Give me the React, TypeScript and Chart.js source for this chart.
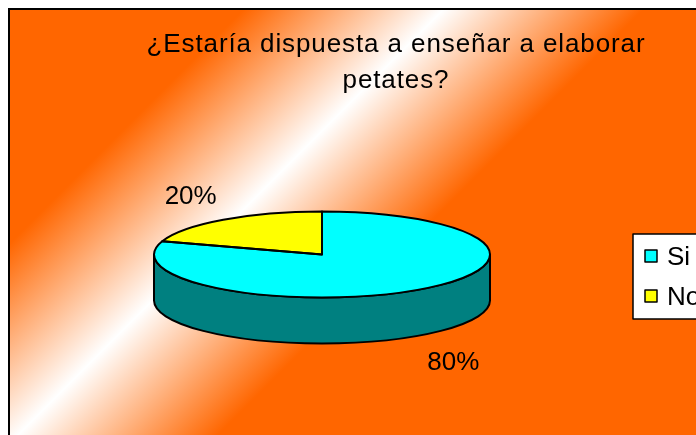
import { useEffect, useRef } from "react";
import { Chart, registerables } from "chart.js";

Chart.register(...registerables);

const categories = ["Si", "No"];
const values = [80, 20];
const titleLines = ["¿Estaría dispuesta a enseñar a elaborar", "petates?"];
const topColors = ["#00FFFF", "#FFFF00"];
const sideColors = ["#008080", "#808000"];

const FONT = '"Liberation Sans", Arial, sans-serif';
const W = 696;
const H = 435;

// 3D projection settings
const PIE_CX = 322;
const PIE_CY = 254.5;
const PIE_R = 168;
const PIE_RY = 43;
const DEPTH = 46;

const TWO_PI = Math.PI * 2;

const pie3d = {
  id: "pie3d",
  beforeDraw(chart: any) {
    const ctx = chart.ctx as CanvasRenderingContext2D;
    ctx.save();
    ctx.fillStyle = "#FFFFFF";
    ctx.fillRect(0, 0, W, H);
    const g = ctx.createLinearGradient(126.5, 126.5, 326.5, 326.5);
    g.addColorStop(0, "#FF6600");
    g.addColorStop(0.5, "#FFFFFF");
    g.addColorStop(1, "#FF6600");
    ctx.fillStyle = g;
    ctx.fillRect(9, 9, W, H);
    ctx.strokeStyle = "#000";
    ctx.lineWidth = 2;
    ctx.strokeRect(9, 9, W + 20, H + 20);
    // title
    ctx.fillStyle = "#000";
    ctx.font = `26px ${FONT}`;
    ctx.textAlign = "center";
    ctx.textBaseline = "alphabetic";
    (ctx as any).letterSpacing = "0.9px";
    titleLines.forEach((t, i) => ctx.fillText(t, 396, 52 + i * 36));
    (ctx as any).letterSpacing = "0px";
    ctx.restore();
  },
  beforeDatasetsDraw(chart: any) {
    const ctx = chart.ctx as CanvasRenderingContext2D;
    const arcs = chart.getDatasetMeta(0).data;
    const a0 = arcs[0];
    const cx = a0.x;
    const cy = a0.y;
    const R = a0.outerRadius;
    const ry = (PIE_RY / PIE_R) * R;
    ctx.save();
    ctx.lineWidth = 2;
    ctx.strokeStyle = "#000";
    ctx.lineJoin = "round";
    arcs.forEach((arc: any, i: number) => {
      const s = arc.startAngle;
      const e = arc.endAngle;
      for (let n = -1; n <= 2; n++) {
        const lo = Math.max(s, n * TWO_PI);
        const hi = Math.min(e, n * TWO_PI + Math.PI);
        if (hi > lo) {
          ctx.beginPath();
          ctx.ellipse(cx, PIE_CY, R, ry, 0, lo, hi);
          ctx.ellipse(cx, PIE_CY + DEPTH, R, ry, 0, hi, lo, true);
          ctx.closePath();
          ctx.fillStyle = sideColors[i];
          ctx.fill();
          ctx.stroke();
        }
      }
    });
    ctx.restore();
    ctx.save();
    ctx.translate(0, PIE_CY);
    ctx.scale(1, ry / R);
    ctx.translate(0, -cy);
  },
  afterDatasetsDraw(chart: any) {
    const ctx = chart.ctx as CanvasRenderingContext2D;
    ctx.restore();
    const arcs = chart.getDatasetMeta(0).data;
    const a0 = arcs[0];
    const cx = a0.x;
    const R = a0.outerRadius;
    const ry = (PIE_RY / PIE_R) * R;
    ctx.save();
    ctx.lineWidth = 2;
    ctx.strokeStyle = "#000";
    ctx.lineJoin = "round";
    arcs.forEach((arc: any) => {
      ctx.beginPath();
      ctx.moveTo(cx, PIE_CY);
      ctx.ellipse(cx, PIE_CY, R, ry, 0, arc.startAngle, arc.endAngle);
      ctx.closePath();
      ctx.stroke();
    });
    // data labels
    const total = values.reduce((a, b) => a + b, 0);
    ctx.fillStyle = "#000";
    ctx.font = `26px ${FONT}`;
    ctx.textAlign = "center";
    ctx.textBaseline = "alphabetic";
    arcs.forEach((arc: any, i: number) => {
      const mid = (arc.startAngle + arc.endAngle) / 2;
      const c = Math.cos(mid);
      const sn = Math.sin(mid);
      const lx = cx + c * R * 1.33;
      const ly = PIE_CY + sn * ry * 1.72 + (sn > 0 ? DEPTH : 0) + 9.3;
      ctx.fillText(Math.round((values[i] / total) * 100) + "%", lx, ly);
    });
    // legend
    ctx.fillStyle = "#FFFFFF";
    ctx.fillRect(633, 234, 80, 85);
    ctx.lineWidth = 1.5;
    ctx.strokeRect(633, 234, 80, 85);
    ctx.textAlign = "left";
    categories.forEach((cat, i) => {
      const y = 256 + i * 40;
      ctx.fillStyle = topColors[i];
      ctx.fillRect(645, y - 6, 12, 12);
      ctx.strokeStyle = "#000";
      ctx.lineWidth = 1.5;
      ctx.strokeRect(645, y - 6, 12, 12);
      ctx.fillStyle = "#000";
      ctx.fillText(cat, 667, y + 9.3);
    });
    ctx.restore();
  },
};

export default function App() {
  const ref = useRef<HTMLCanvasElement | null>(null);
  useEffect(() => {
    if (!ref.current) return;
    const chart = new Chart(ref.current, {
      type: "pie",
      data: {
        labels: categories,
        datasets: [
          {
            data: values,
            backgroundColor: topColors,
            borderWidth: 0,
          },
        ],
      },
      options: {
        animation: false,
        responsive: false,
        devicePixelRatio: 1,
        events: [],
        layout: {
          padding: {
            left: PIE_CX - PIE_R,
            right: W - (PIE_CX + PIE_R),
            top: 49,
            bottom: 50,
          },
        },
        plugins: {
          legend: { display: false },
          tooltip: { enabled: false },
          title: { display: false },
        },
      },
      plugins: [pie3d],
    });
    return () => chart.destroy();
  }, []);
  return (
    <div style={{ position: "absolute", left: 0, top: 0, width: W, height: H, overflow: "hidden" }}>
      <canvas ref={ref} width={W} height={H} style={{ display: "block" }} />
    </div>
  );
}
